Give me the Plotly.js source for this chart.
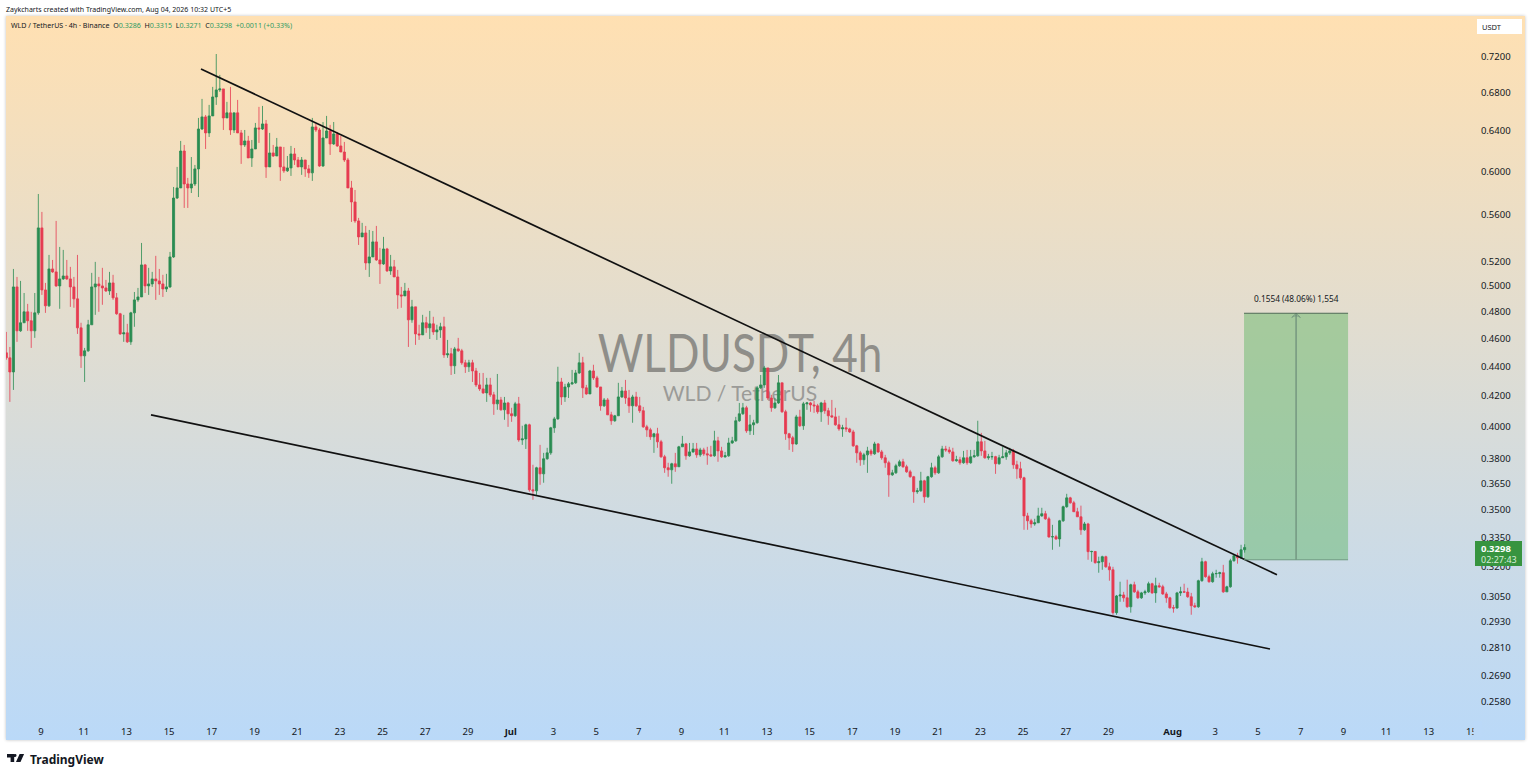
<!DOCTYPE html>
<html>
<head>
<meta charset="utf-8">
<title>WLDUSDT 4h</title>
<script src="https://cdn.plot.ly/plotly-3.0.1.min.js"></script>
<style>
  html, body { margin: 0; padding: 0; background: #fff; overflow: hidden; }
  #panel { position: absolute; left: 6px; top: 16px; width: 1519px; height: 724px;
    background: linear-gradient(180deg, #ffe0b2 0%, #bad9f8 100%); box-shadow: 0 0 3px rgba(0,0,0,.25); }
  .wm { position: absolute; white-space: nowrap; font-family: Lato, sans-serif; }
  #wm1 { left: 740px; top: 327px; font-size: 52px; line-height: 50px; color: #8f8e89; transform: translateX(-50%) scaleX(.848); }
  #wm2 { left: 740px; top: 380px; font-size: 22px; line-height: 26px; color: #9b9b98; transform: translateX(-50%) scaleX(.96); }
  #chart { position: absolute; left: 0; top: 0; width: 1531px; height: 777px; }
  #logo { position: absolute; left: 7px; top: 754px; }
</style>
</head>
<body>
<div id="panel"></div>
<div id="wm1" class="wm">WLDUSDT, 4h</div>
<div id="wm2" class="wm">WLD / TetherUS</div>
<div id="chart"></div>
<svg id="logo" width="18" height="9" viewBox="0 0 20 10"><path d="M0 0H8V9H4V4H0Z M9 0A1.6 1.6 0 1 1 9 3.2A1.6 1.6 0 1 1 9 0Z M14 0H19L15 9H10Z" fill="#131722"/></svg>
<script>
// first candle opens here, every other open is the previous close
const firstOpen = 0.4496;
const closes = [
0.4460,0.4361,0.4993,0.4656,0.4716,0.4799,0.4731,0.4656,0.4791,0.5485,
0.4969,0.4845,0.5138,0.5114,0.5001,0.5057,0.5081,0.5057,0.4993,0.4899,
0.4678,0.4474,0.4510,0.4701,0.4993,0.5017,0.5001,0.4985,0.4961,0.5025,
0.4907,0.4784,0.4633,0.4641,0.4575,0.4791,0.4891,0.4914,0.5171,0.5001,
0.5017,0.5057,0.5041,0.5017,0.4977,0.4993,0.5237,0.5752,0.5845,0.6199,
0.5882,0.5845,0.5882,0.6025,0.6420,0.6545,0.6380,0.6555,0.6756,0.6832,
0.6843,0.6534,0.6587,0.6410,0.6587,0.6380,0.6259,0.6299,0.6131,0.6219,
0.6431,0.6420,0.6472,0.6044,0.6180,0.6150,0.6239,0.6044,0.6006,0.6034,
0.6170,0.6111,0.6044,0.6111,0.6025,0.5987,0.6441,0.6410,0.6053,0.6329,
0.6400,0.6269,0.6370,0.6249,0.6189,0.6111,0.5845,0.5716,0.5546,0.5407,
0.5441,0.5187,0.5237,0.5364,0.5212,0.5179,0.5304,0.5122,0.5155,0.5073,
0.4930,0.4922,0.4961,0.4738,0.4837,0.4633,0.4626,0.4716,0.4678,0.4708,
0.4648,0.4663,0.4686,0.4481,0.4489,0.4404,0.4524,0.4510,0.4425,0.4397,
0.4425,0.4368,0.4272,0.4245,0.4218,0.4272,0.4205,0.4145,0.4171,0.4106,
0.4151,0.4080,0.4067,0.4145,0.3914,0.3920,0.4009,0.3615,0.3609,0.3744,
0.3708,0.3798,0.3834,0.3990,0.4047,0.4292,0.4191,0.4258,0.4279,0.4286,
0.4354,0.4425,0.4252,0.4211,0.4368,0.4320,0.4258,0.4132,0.4171,0.4073,
0.4035,0.4067,0.4191,0.4231,0.4184,0.4132,0.4191,0.4132,0.4100,0.3996,
0.3977,0.3933,0.3952,0.3902,0.3810,0.3744,0.3732,0.3768,0.3750,0.3871,
0.3889,0.3816,0.3840,0.3858,0.3822,0.3852,0.3828,0.3822,0.3816,0.3908,
0.3846,0.3810,0.3816,0.3895,0.3908,0.4035,0.4080,0.4119,0.3971,0.4009,
0.4022,0.4252,0.4272,0.4389,0.4184,0.4119,0.4151,0.4286,0.4093,0.3952,
0.3927,0.3889,0.4060,0.4003,0.4145,0.4151,0.4138,0.4132,0.4093,0.4151,
0.4100,0.4067,0.4060,0.4009,0.3983,0.3990,0.3983,0.3964,0.3877,0.3834,
0.3792,0.3822,0.3846,0.3828,0.3889,0.3840,0.3804,0.3774,0.3702,0.3714,
0.3756,0.3780,0.3750,0.3720,0.3691,0.3604,0.3609,0.3667,0.3575,0.3691,
0.3744,0.3714,0.3810,0.3858,0.3852,0.3840,0.3786,0.3792,0.3774,0.3804,
0.3774,0.3810,0.3816,0.3902,0.3846,0.3804,0.3810,0.3811,0.3768,0.3804,
0.3810,0.3834,0.3846,0.3762,0.3738,0.3685,0.3468,0.3441,0.3424,0.3430,
0.3468,0.3480,0.3452,0.3354,0.3355,0.3343,0.3441,0.3519,0.3569,0.3541,
0.3491,0.3463,0.3392,0.3424,0.3276,0.3277,0.3219,0.3224,0.3250,0.3198,
0.3183,0.2973,0.3053,0.3058,0.3044,0.3001,0.3108,0.3073,0.3044,0.3068,
0.3073,0.3113,0.3068,0.3103,0.3098,0.3063,0.3044,0.2996,0.2995,0.3068,
0.3073,0.3072,0.3049,0.3006,0.3001,0.3128,0.3224,0.3148,0.3123,0.3163,
0.3164,0.3168,0.3073,0.3098,0.3229,0.3255,0.3244,0.3286,0.3298];
const highs = [
0.4648,0.4538,0.5138,0.5073,0.5041,0.4945,0.4860,0.4799,0.4945,0.5789,
0.5626,0.5025,0.5254,0.5212,0.5546,0.5321,0.5296,0.5212,0.5155,0.5073,
0.5254,0.4716,0.4531,0.4738,0.5106,0.5196,0.5073,0.5147,0.5049,0.5114,
0.5090,0.4945,0.4791,0.4776,0.4708,0.4799,0.4953,0.4985,0.5355,0.5179,
0.5147,0.5114,0.5246,0.5138,0.5090,0.5098,0.5279,0.5854,0.6044,0.6299,
0.6259,0.5939,0.6140,0.6063,0.6534,0.6735,0.6565,0.6671,0.6865,0.7234,
0.6997,0.6843,0.6703,0.6865,0.6587,0.6724,0.6410,0.6410,0.6350,0.6309,
0.6482,0.6650,0.6660,0.6513,0.6380,0.6259,0.6329,0.6239,0.6239,0.6150,
0.6249,0.6229,0.6140,0.6140,0.6092,0.6063,0.6534,0.6472,0.6431,0.6492,
0.6555,0.6462,0.6492,0.6390,0.6350,0.6289,0.6131,0.5911,0.5826,0.5573,
0.5529,0.5502,0.5467,0.5458,0.5502,0.5313,0.5407,0.5313,0.5254,0.5212,
0.5130,0.4993,0.5025,0.4985,0.4891,0.4837,0.4701,0.4776,0.4761,0.4806,
0.4761,0.4701,0.4716,0.4761,0.4589,0.4531,0.4538,0.4604,0.4524,0.4446,
0.4446,0.4446,0.4389,0.4354,0.4354,0.4320,0.4320,0.4225,0.4347,0.4191,
0.4191,0.4158,0.4119,0.4158,0.4191,0.4003,0.4016,0.4016,0.3762,0.3750,
0.3883,0.3834,0.3865,0.3996,0.4060,0.4397,0.4320,0.4279,0.4292,0.4375,
0.4375,0.4496,0.4467,0.4272,0.4375,0.4411,0.4334,0.4258,0.4184,0.4184,
0.4093,0.4073,0.4286,0.4258,0.4306,0.4238,0.4205,0.4225,0.4191,0.4125,
0.4009,0.3990,0.3958,0.3990,0.3914,0.3822,0.3774,0.3774,0.3834,0.3877,
0.3939,0.3895,0.3895,0.3895,0.3895,0.3865,0.3865,0.3871,0.3877,0.3971,
0.3933,0.3871,0.3840,0.3927,0.3933,0.4060,0.4151,0.4151,0.4132,0.4073,
0.4041,0.4265,0.4340,0.4403,0.4389,0.4205,0.4184,0.4340,0.4286,0.4106,
0.3958,0.3939,0.4073,0.4106,0.4158,0.4158,0.4158,0.4165,0.4145,0.4158,
0.4171,0.4119,0.4171,0.4119,0.4067,0.4009,0.4054,0.3990,0.3977,0.3883,
0.3846,0.3834,0.3871,0.3858,0.3902,0.3895,0.3852,0.3822,0.3786,0.3732,
0.3768,0.3792,0.3798,0.3762,0.3732,0.3696,0.3626,0.3720,0.3673,0.3696,
0.3774,0.3756,0.3822,0.3877,0.3877,0.3871,0.3865,0.3816,0.3810,0.3846,
0.3852,0.3852,0.3852,0.4035,0.3958,0.3908,0.3828,0.3840,0.3816,0.3822,
0.3871,0.3852,0.3865,0.3858,0.3786,0.3780,0.3691,0.3485,0.3452,0.3452,
0.3513,0.3513,0.3496,0.3463,0.3419,0.3365,0.3446,0.3525,0.3592,0.3575,
0.3552,0.3513,0.3525,0.3435,0.3430,0.3281,0.3270,0.3250,0.3255,0.3255,
0.3219,0.3198,0.3058,0.3123,0.3073,0.3133,0.3113,0.3123,0.3083,0.3073,
0.3083,0.3123,0.3118,0.3143,0.3118,0.3108,0.3073,0.3049,0.3010,0.3073,
0.3098,0.3113,0.3093,0.3068,0.3020,0.3133,0.3244,0.3229,0.3158,0.3173,
0.3183,0.3173,0.3208,0.3103,0.3239,0.3260,0.3270,0.3312,0.3315];
const lows = [
0.4446,0.4158,0.4238,0.4575,0.4648,0.4716,0.4656,0.4531,0.4604,0.4776,
0.4930,0.4791,0.4837,0.5106,0.4993,0.4822,0.5049,0.5049,0.4837,0.4830,
0.4633,0.4389,0.4292,0.4503,0.4701,0.4776,0.4799,0.4853,0.4953,0.4930,
0.4891,0.4776,0.4626,0.4575,0.4567,0.4553,0.4686,0.4876,0.4914,0.4945,
0.4930,0.4993,0.4891,0.4930,0.4914,0.4953,0.4985,0.5229,0.5743,0.5845,
0.5662,0.5662,0.5798,0.5863,0.5761,0.6410,0.6219,0.6339,0.6555,0.6671,
0.6810,0.6410,0.6534,0.6360,0.6380,0.6380,0.6073,0.6239,0.6131,0.6044,
0.6219,0.6279,0.6410,0.5939,0.6044,0.6140,0.6150,0.5911,0.5987,0.5996,
0.5958,0.6063,0.6044,0.5968,0.5949,0.5939,0.5911,0.6390,0.6044,0.6044,
0.6329,0.6160,0.6259,0.6239,0.6189,0.6092,0.5845,0.5537,0.5529,0.5338,
0.5407,0.5130,0.5073,0.5237,0.5204,0.5017,0.5171,0.5114,0.5090,0.5073,
0.4822,0.4830,0.4922,0.4538,0.4716,0.4553,0.4589,0.4626,0.4641,0.4596,
0.4626,0.4589,0.4604,0.4460,0.4460,0.4340,0.4347,0.4503,0.4411,0.4354,
0.4361,0.4292,0.4258,0.4231,0.4211,0.4158,0.4191,0.4073,0.4106,0.4100,
0.4041,0.3996,0.4028,0.4060,0.3902,0.3883,0.3858,0.3604,0.3558,0.3586,
0.3644,0.3656,0.3792,0.3822,0.3958,0.4041,0.4138,0.4158,0.4184,0.4272,
0.4279,0.4347,0.4184,0.4205,0.4211,0.4306,0.4252,0.4100,0.4125,0.4073,
0.4009,0.4028,0.4067,0.4184,0.4145,0.4086,0.4022,0.4125,0.4086,0.3990,
0.3933,0.3914,0.3834,0.3865,0.3804,0.3714,0.3691,0.3650,0.3720,0.3750,
0.3871,0.3792,0.3810,0.3834,0.3804,0.3810,0.3816,0.3762,0.3810,0.3810,
0.3780,0.3804,0.3804,0.3810,0.3889,0.3902,0.4028,0.4073,0.3958,0.3945,
0.3945,0.4016,0.4245,0.4252,0.4171,0.4093,0.4112,0.4145,0.4086,0.3914,
0.3852,0.3840,0.3883,0.3996,0.3977,0.4106,0.4093,0.4086,0.4080,0.4028,
0.4080,0.4009,0.4054,0.4003,0.3971,0.3933,0.3964,0.3958,0.3871,0.3774,
0.3756,0.3762,0.3714,0.3816,0.3822,0.3834,0.3792,0.3744,0.3575,0.3696,
0.3708,0.3750,0.3744,0.3714,0.3685,0.3541,0.3592,0.3604,0.3541,0.3569,
0.3685,0.3702,0.3708,0.3804,0.3840,0.3828,0.3780,0.3780,0.3762,0.3768,
0.3762,0.3768,0.3804,0.3810,0.3816,0.3798,0.3792,0.3792,0.3708,0.3762,
0.3804,0.3792,0.3822,0.3738,0.3679,0.3673,0.3392,0.3392,0.3403,0.3414,
0.3430,0.3463,0.3446,0.3349,0.3286,0.3338,0.3302,0.3435,0.3513,0.3536,
0.3491,0.3463,0.3365,0.3387,0.3234,0.3224,0.3214,0.3168,0.3183,0.3193,
0.3128,0.2963,0.2963,0.3025,0.3025,0.2996,0.2973,0.3068,0.3039,0.3039,
0.3058,0.3068,0.3063,0.3020,0.3093,0.3058,0.3020,0.2992,0.2973,0.2992,
0.3053,0.3068,0.3044,0.2963,0.2996,0.2996,0.3123,0.3143,0.3118,0.3118,
0.3143,0.3143,0.3068,0.3073,0.3093,0.3224,0.3214,0.3239,0.3271];

const priceTicks = [0.72,0.68,0.64,0.60,0.56,0.52,0.50,0.48,0.46,0.44,0.42,0.40,0.38,0.365,0.35,0.335,0.32,0.305,0.293,0.281,0.269,0.258];
const dateTicks = ['2026-06-09','2026-06-11','2026-06-13','2026-06-15','2026-06-17','2026-06-19','2026-06-21','2026-06-23','2026-06-25','2026-06-27','2026-06-29',
  '2026-07-01','2026-07-03','2026-07-05','2026-07-07','2026-07-09','2026-07-11','2026-07-13','2026-07-15','2026-07-17','2026-07-19','2026-07-21','2026-07-23','2026-07-25','2026-07-27','2026-07-29',
  '2026-08-01','2026-08-03','2026-08-05','2026-08-07','2026-08-09','2026-08-11','2026-08-13','2026-08-15'];
const dateLabels = ['9','11','13','15','17','19','21','23','25','27','29',
  '<b>Jul</b>','3','5','7','9','11','13','15','17','19','21','23','25','27','29',
  '<b>Aug</b>','3','5','7','9','11','13','15'];

// drawn levels
const upperX = ['2026-06-16 11:52','2026-08-05 21:22'], upperY = [0.7064,0.3158];
const lowerX = ['2026-06-14 03:39','2026-08-05 13:30'], lowerY = [0.4073,0.2806];
const boxX = ['2026-08-04 08:20','2026-08-09 05:16'], boxMidX = '2026-08-06 18:50', boxY = [0.3234,0.4788];

const upColor = '#2a8c52', downColor = '#e63b50';
const font = '"Noto Sans", sans-serif';
const LEFT = 6, RIGHT = 1473, TOP = 16, BOTTOM = 718;

const start = Date.UTC(2026, 5, 7, 9);
const times = closes.map((_, i) => new Date(start + i * 4 * 3600 * 1000).toISOString().slice(0, 16).replace('T', ' '));
const opens = [firstOpen].concat(closes.slice(0, -1));

const px = (x) => (x - LEFT) / (RIGHT - LEFT);
const py = (y) => 1 - (y - TOP) / (BOTTOM - TOP);

function note(x, y, text, opts) {
    return Object.assign({ xref: 'paper', yref: 'paper', x: px(x), y: py(y), text: text, showarrow: false,
        xanchor: 'left', yanchor: 'middle', align: 'left', font: { family: font, size: 8, color: '#131722' } }, opts);
}

const data = [
    {
        type: 'candlestick', x: times, open: opens, high: highs, low: lows, close: closes,
        increasing: { line: { color: upColor, width: 0.8 }, fillcolor: upColor },
        decreasing: { line: { color: downColor, width: 0.8 }, fillcolor: downColor },
        whiskerwidth: 0, hoverinfo: 'skip'
    },
    { type: 'scatter', mode: 'lines', x: upperX, y: upperY, line: { color: '#111', width: 1.7 }, hoverinfo: 'skip' },
    { type: 'scatter', mode: 'lines', x: lowerX, y: lowerY, line: { color: '#111', width: 1.7 }, hoverinfo: 'skip' },
    { type: 'scatter', mode: 'lines+markers', x: [boxMidX, boxMidX], y: boxY,
      line: { color: '#6a8a78', width: 1.2 },
      marker: { symbol: ['circle-open', 'arrow-wide-open'], size: [0, 6], color: '#6a8a78', line: { width: 1, color: '#6a8a78' } },
      hoverinfo: 'skip' }
];

const legendGreen = '#2e9b63';
const legendText = 'WLD / TetherUS · 4h · Binance &nbsp;O<span style="color:' + legendGreen + '">0.3286</span> &nbsp;H<span style="color:' + legendGreen + '">0.3315</span> &nbsp;L<span style="color:' + legendGreen + '">0.3271</span> &nbsp;C<span style="color:' + legendGreen + '">0.3298</span> &nbsp;<span style="color:' + legendGreen + '">+0.0011 (+0.33%)</span>';

const layout = {
    width: 1531, height: 777,
    margin: { l: LEFT, r: 1531 - RIGHT, t: TOP, b: 777 - BOTTOM, pad: 0 },
    paper_bgcolor: 'rgba(0,0,0,0)', plot_bgcolor: 'rgba(0,0,0,0)',
    showlegend: false, hovermode: false, boxgap: 0.15,
    xaxis: {
        type: 'date', range: ['2026-06-07 08:39', '2026-08-15 01:43'], rangeslider: { visible: false },
        tickmode: 'array', tickvals: dateTicks, ticktext: dateLabels, ticklen: 5, ticks: 'outside', tickcolor: 'rgba(0,0,0,0)',
        tickfont: { family: font, size: 9.5, color: '#131722' }, showgrid: false, zeroline: false, showline: false, fixedrange: true
    },
    yaxis: {
        type: 'log', side: 'right', range: [Math.log10(0.2514), Math.log10(0.7685)],
        tickmode: 'array', tickvals: priceTicks, ticktext: priceTicks.map((v) => v.toFixed(4)), ticklen: 5, ticks: 'outside', tickcolor: 'rgba(0,0,0,0)',
        tickfont: { family: font, size: 9.5, color: '#131722' }, showgrid: false, zeroline: false, showline: false, fixedrange: true
    },
    shapes: [
        { type: 'rect', xref: 'x', yref: 'y', x0: boxX[0], x1: boxX[1], y0: boxY[0], y1: boxY[1], fillcolor: 'rgba(76,175,80,0.4)', line: { width: 0 }, layer: 'below' },
        { type: 'line', xref: 'x', yref: 'y', x0: boxX[0], x1: boxX[1], y0: boxY[1], y1: boxY[1], line: { color: '#4f6b55', width: 1 } },
        { type: 'line', xref: 'x', yref: 'y', x0: boxX[0], x1: boxX[1], y0: boxY[0], y1: boxY[0], line: { color: '#6f9a80', width: 1 } },
        // price tag on the scale
        { type: 'rect', xref: 'paper', yref: 'paper', x0: px(1475), x1: px(1522), y0: py(566), y1: py(541), fillcolor: '#37943f', line: { width: 0 } },
        // symbol box top right
        { type: 'rect', xref: 'paper', yref: 'paper', x0: px(1477), x1: px(1522), y0: py(34), y1: py(19), fillcolor: '#fff', line: { width: 0 } },
        // time scale cuts the last label
        { type: 'rect', xref: 'paper', yref: 'paper', x0: px(1473.5), x1: px(1482), y0: py(737), y1: py(721), fillcolor: '#bbd9f8', line: { width: 0 } }
    ],
    annotations: [
        note(4, 9, 'Zaykcharts created with TradingView.com, Aug 04, 2026 10:32 UTC+5', { font: { family: font, size: 7, color: '#131722' } }),
        note(9, 25, legendText, { font: { family: font, size: 7.1, color: '#131722' } }),
        note(1480, 27, 'USDT', { font: { family: font, size: 7.5, color: '#131722' } }),
        note(1479, 548, '<b>0.3298</b>', { font: { family: font, size: 9.5, color: '#fff' } }),
        note(1479, 559, '02:27:43', { font: { family: font, size: 9, color: '#d7eeda' } }),
        note(1296, 298, '0.1554 (48.06%) 1,554', { xanchor: 'center', font: { family: font, size: 8.3, color: '#131722' } }),
        note(28, 759, '<b>TradingView</b>', { font: { family: font, size: 12, color: '#131722' } })
    ]
};

Plotly.newPlot('chart', data, layout, { displayModeBar: false, staticPlot: true });
</script>
</body>
</html>
